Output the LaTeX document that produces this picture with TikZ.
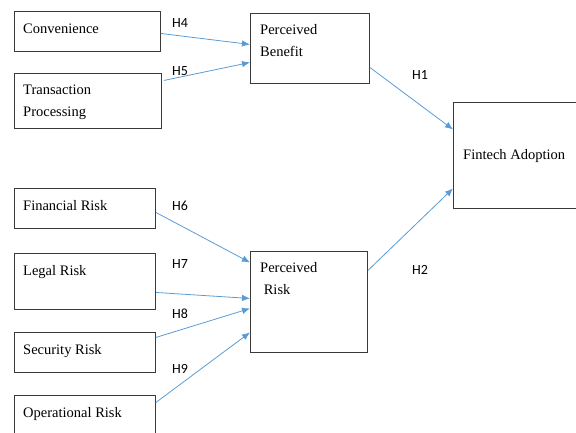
\documentclass[tikz,border=0pt]{standalone}
\usepackage{fontspec}
\setmainfont{Liberation Serif}
\newfontfamily\hypfont{Carlito}
\usetikzlibrary{arrows.meta}
\definecolor{linkblue}{HTML}{5B9BD5}
\definecolor{boxgray}{HTML}{3A3A3A}
\tikzset{>={Latex[length=8pt,width=6.5pt]}}

\begin{document}
\begin{tikzpicture}[x=1pt,y=-1pt,
    box/.style={draw=boxgray, line width=0.9pt, anchor=north west, inner sep=0pt},
    boxtext/.style={font=\fontsize{14.5}{21.5}\selectfont, align=left, anchor=base west, inner sep=0pt},
    hyp/.style={font=\hypfont\fontsize{14}{16}\selectfont, inner sep=0pt},
    link/.style={->, draw=linkblue, line width=0.8pt}]
  \useasboundingbox (0,0) rectangle (576,432);
  % left column
  \node[box, minimum width=146, minimum height=40,
    label={[boxtext, xshift=9pt, yshift=-22.5pt]north west:Convenience}] (conv) at (14,11) {};
  \node[box, minimum width=147, minimum height=55,
    label={[boxtext, xshift=9pt, yshift=-43pt]north west:Transaction\\Processing}] (trans) at (14,73) {};
  \node[box, minimum width=141, minimum height=40,
    label={[boxtext, xshift=9pt, yshift=-22.5pt]north west:Financial Risk}] (fin) at (14,188) {};
  \node[box, minimum width=141, minimum height=56,
    label={[boxtext, xshift=9pt, yshift=-22.5pt]north west:Legal Risk}] (legal) at (14,253) {};
  \node[box, minimum width=141, minimum height=40,
    label={[boxtext, xshift=9pt, yshift=-22.5pt]north west:Security Risk}] (sec) at (14,332) {};
  \node[box, minimum width=141, minimum height=45,
    label={[boxtext, xshift=9pt, yshift=-22.5pt]north west:Operational Risk}] (oper) at (14,395) {};
  % middle and right
  \node[box, minimum width=119, minimum height=70,
    label={[boxtext, xshift=10pt, yshift=-43pt]north west:Perceived\\Benefit}] (pb) at (250,13) {};
  \node[box, minimum width=117, minimum height=101,
    label={[boxtext, xshift=10pt, yshift=-43pt]north west:Perceived\\\ Risk}] (pr) at (250,251) {};
  \node[box, minimum width=130, minimum height=106,
    label={[boxtext, xshift=10pt, yshift=-57.5pt]north west:Fintech Adoption}] (fa) at (453,102) {};

  \draw[link] ([yshift=-2pt]conv.east) -- ([yshift=4pt]pb.west);
  \draw[link] ([xshift=2pt,yshift=20.5pt]trans.east) -- ([yshift=-14pt]pb.west);
  \draw[link] ([yshift=-19pt]pb.east) -- ([yshift=26pt]fa.west);
  \draw[link] ([yshift=31.5pt]pr.east) -- ([yshift=-33pt]fa.west);
  \draw[link] ([yshift=-4pt]fin.east) -- ([yshift=39.5pt]pr.west);
  \draw[link] ([yshift=-11pt]legal.east) -- ([yshift=3.5pt]pr.west);
  \draw[link] ([yshift=15pt]sec.east) -- ([yshift=-6.5pt]pr.west);
  \draw[link] ([yshift=15.5pt]oper.east) -- ([yshift=-30.5pt]pr.west);

  \node[hyp] (h4) at (180,23) {H4};
  \node[hyp] (h5) at (180,71) {H5};
  \node[hyp] (h1) at (420,75) {H1};
  \node[hyp] (h2) at (420,270) {H2};
  \node[hyp] (h6) at (180,206) {H6};
  \node[hyp] (h7) at (180,264) {H7};
  \node[hyp] (h8) at (180,314) {H8};
  \node[hyp] (h9) at (180,369) {H9};
\end{tikzpicture}
\end{document}
